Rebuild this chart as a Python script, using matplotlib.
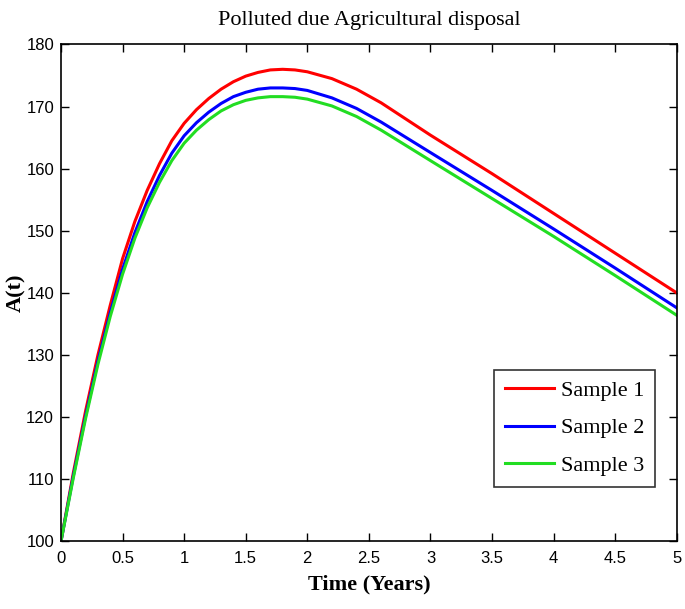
import matplotlib
matplotlib.use("Agg")
import matplotlib.pyplot as plt

t = [0, 0.1, 0.2, 0.3, 0.4, 0.5, 0.6, 0.7, 0.8, 0.9, 1.0, 1.1, 1.2, 1.3, 1.4,
     1.5, 1.6, 1.7, 1.8, 1.9, 2.0, 2.2, 2.4, 2.6, 3.0, 3.5, 4.0, 4.5, 5.0]
sample1 = [100, 111, 121, 130, 138, 145.5, 151.5, 156.5, 160.8, 164.5, 167.3,
           169.5, 171.3, 172.8, 174, 174.9, 175.5, 175.9, 176, 175.9, 175.6,
           174.5, 172.8, 170.6, 165.4, 159.2, 152.8, 146.4, 140.0]
sample2 = [100, 110.5, 120.2, 129, 136.8, 143.8, 149.7, 154.7, 158.9, 162.5,
           165.3, 167.4, 169.1, 170.5, 171.6, 172.3, 172.8, 173, 173, 172.9,
           172.6, 171.4, 169.7, 167.5, 162.6, 156.5, 150.3, 144.0, 137.6]
sample3 = [100, 110.2, 119.8, 128.5, 136.2, 143, 148.8, 153.7, 157.8, 161.3,
           164.1, 166.2, 167.9, 169.3, 170.3, 171, 171.4, 171.6, 171.6, 171.5,
           171.2, 170.1, 168.4, 166.2, 161.3, 155.2, 149.1, 142.8, 136.4]
labels = ["Sample 1", "Sample 2", "Sample 3"]
colors = ["#ff0000", "#0000ff", "#22dd22"]
xticks = [0, 0.5, 1, 1.5, 2, 2.5, 3, 3.5, 4, 4.5, 5]
yticks = [100, 110, 120, 130, 140, 150, 160, 170, 180]

tick_font = "Liberation Sans"
serif = "Liberation Serif"

fig = plt.figure(figsize=(6.85, 6.09), dpi=100)
ax = fig.add_axes([0.089, 0.111, 0.899, 0.816])

for ys, lab, c in zip([sample1, sample2, sample3], labels, colors):
    ax.plot(t, ys, color=c, lw=2.2, label=lab)

ax.set_xlim(0, 5)
ax.set_ylim(100, 180)
ax.set_xticks(xticks)
ax.set_xticklabels([f"{v:g}" for v in xticks])
ax.set_yticks(yticks)
ax.tick_params(direction="in", top=True, right=True, length=6, width=1,
               labelsize=12)
ax.tick_params(axis="x", pad=7)
ax.tick_params(axis="y", pad=5)
for lab in ax.get_xticklabels() + ax.get_yticklabels():
    lab.set_fontfamily(tick_font)
for s in ax.spines.values():
    s.set_linewidth(1.2)

ax.set_title("Polluted due Agricultural disposal", fontfamily=serif,
             fontsize=16, pad=14)
ax.set_xlabel("Time (Years)", fontfamily=serif, fontsize=16,
              fontweight="bold", labelpad=6)
ax.set_ylabel("A(t)", fontfamily=serif, fontsize=16, fontweight="bold")
ax.yaxis.set_label_coords(-0.057, 0.5)

leg = ax.legend(loc="lower right", bbox_to_anchor=(0.965, 0.11),
                prop={"family": serif, "size": 16},
                fancybox=False, edgecolor="black", handlelength=2.2,
                handletextpad=0.3, borderpad=0.5, labelspacing=0.75,
                borderaxespad=0.0)
leg.get_frame().set_linewidth(1.2)

fig.savefig("out.png", dpi=100)
